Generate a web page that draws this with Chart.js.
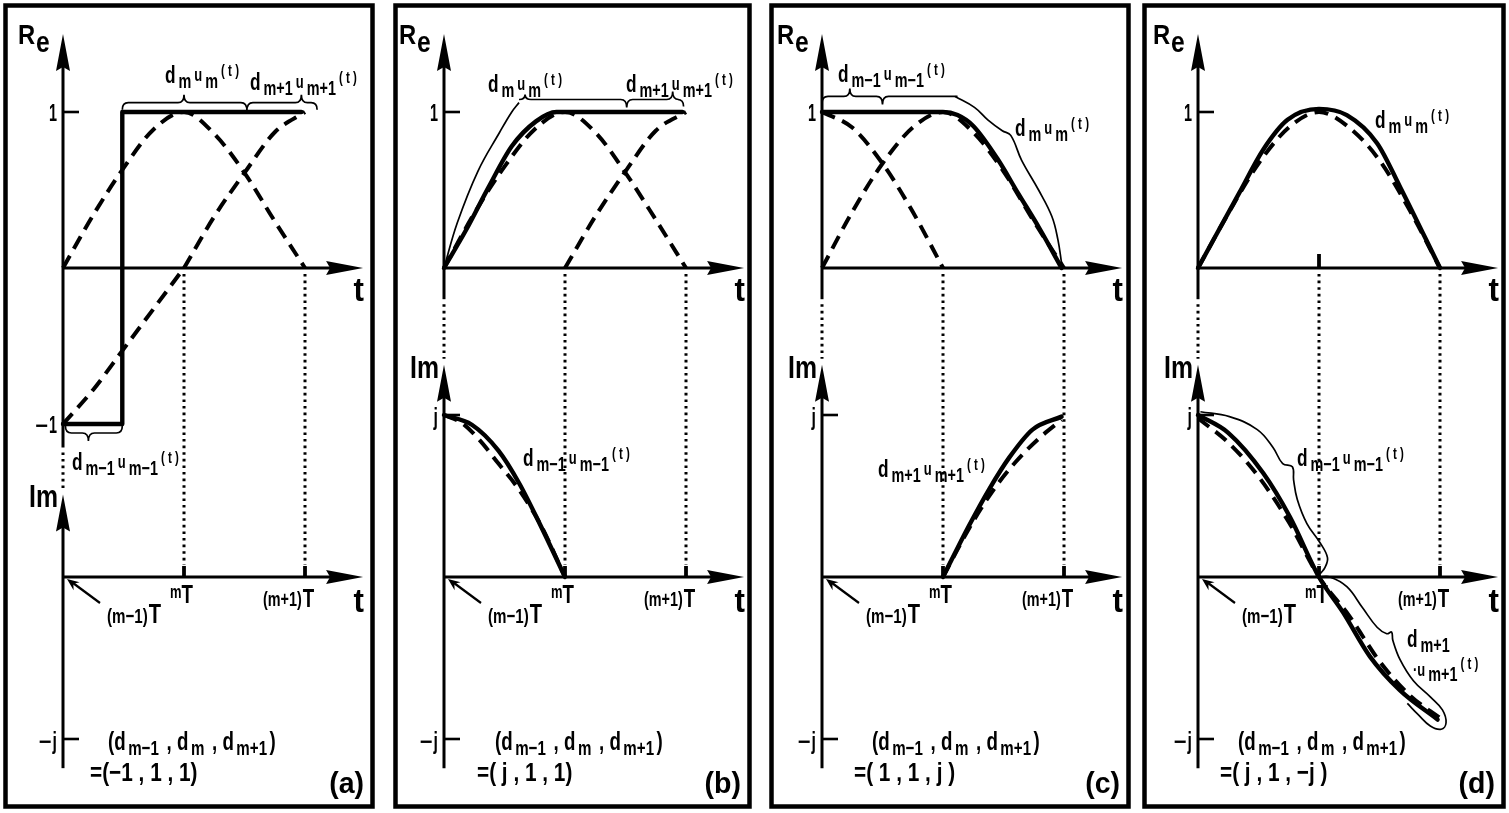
<!DOCTYPE html>
<html>
<head>
<meta charset="utf-8">
<title>Pulse phase diagrams</title>
<script src="https://cdn.jsdelivr.net/npm/chart.js@4.4.1/dist/chart.umd.min.js"></script>
<style>
  html, body { margin: 0; padding: 0; background: #fff; }
  canvas { position: absolute; }
</style>
</head>
<body>
<canvas id="panelA"></canvas>
<canvas id="panelB"></canvas>
<canvas id="panelC"></canvas>
<canvas id="panelD"></canvas>
<script>
'use strict';

// time is in units of T: 0 = (m-1)T, 1 = mT, 2 = (m+1)T
var halfT = [0, 0.25, 0.5, 0.75, 1];
var laterT = [1, 1.25, 1.5, 1.75, 2];
var pulseT = [0, 0.25, 0.5, 0.75, 1, 1.25, 1.5, 1.75, 2];

// (a)  d = (-1, 1, 1)
var aUmV = [0, 0.34, 0.64, 0.89, 1, 0.86, 0.61, 0.30, 0];
var aPrevV = [-1, -0.78, -0.52, -0.26, 0];
var aNextV = [0, 0.33, 0.61, 0.87, 1];
var aSumT = [0, 0.49, 0.49, 1.97];
var aSumV = [-1, -1, 1, 1];

// (b)  d = (j, 1, 1)
var bUmV = [0, 0.35, 0.65, 0.89, 1, 0.87, 0.61, 0.31, 0];
var bNextV = [0, 0.33, 0.62, 0.88, 1];
var bSumT = [0, 0.18, 0.37, 0.56, 0.76, 0.93, 1.97];
var bSumV = [0, 0.24, 0.52, 0.78, 0.94, 1, 1];
var bOutT = [0, 0.11, 0.28, 0.46, 0.56, 0.62];
var bOutV = [0, 0.29, 0.62, 0.87, 1.0, 1.06];
var bImSumT = [0, 0.23, 0.45, 0.62, 0.79, 1];
var bImSumV = [1, 0.94, 0.78, 0.58, 0.33, 0];
var bImPrevT = [0, 0.15, 0.3, 0.45, 0.6, 0.8, 1];
var bImPrevV = [1, 0.95, 0.84, 0.70, 0.56, 0.32, 0];

// (c)  d = (1, 1, j)
var cPrevV = [1, 0.9, 0.67, 0.36, 0];
var cUmV = [0, 0.36, 0.67, 0.9, 1, 0.87, 0.62, 0.3, 0];
var cSumT = [0, 1.0, 1.12, 1.25, 1.45, 1.62, 1.8, 1.98];
var cSumV = [1, 1, 0.98, 0.91, 0.70, 0.48, 0.25, 0];
var cOutT = [1.1, 1.26, 1.37, 1.49, 1.56, 1.65, 1.79, 1.9, 1.95, 1.98];
var cOutV = [1.1, 1.03, 0.95, 0.88, 0.85, 0.69, 0.5, 0.33, 0.18, 0.03];
var cImSumT = [1, 1.21, 1.38, 1.55, 1.74, 1.98];
var cImSumV = [0, 0.31, 0.54, 0.74, 0.91, 0.99];
var cImNextT = [1, 1.2, 1.4, 1.6, 1.8, 1.98];
var cImNextV = [0, 0.28, 0.52, 0.71, 0.86, 0.97];

// (d)  d = (j, 1, -j)
var dUmV = [0, 0.35, 0.67, 0.9, 1.0, 0.9, 0.69, 0.37, 0];
var dSumT = [0, 0.34, 0.54, 0.74, 1.0, 1.23, 1.48, 1.67, 2.0];
var dSumV = [0, 0.48, 0.76, 0.95, 1.02, 0.98, 0.80, 0.52, 0];
var dImSumT = [0, 0.25, 0.54, 0.76, 1.0, 1.2, 1.42, 1.67, 1.98];
var dImSumV = [1, 0.89, 0.64, 0.37, 0, -0.22, -0.49, -0.70, -0.88];
var dImDashV = [0.98, 0.83, 0.62, 0.34, 0, -0.24, -0.52, -0.73, -0.87];
var dOutPrevT = [0.02, 0.26, 0.49, 0.62, 0.70, 0.78, 0.79, 0.82, 0.90, 1.01, 1.07, 1.05, 1.01];
var dOutPrevV = [1.02, 0.99, 0.91, 0.80, 0.70, 0.68, 0.60, 0.48, 0.33, 0.21, 0.12, 0.06, 0.02];
var dOutNextT = [1.0, 1.09, 1.23, 1.36, 1.48, 1.56, 1.60, 1.61, 1.67, 1.78, 1.92, 2.02, 2.05, 2.01, 1.92, 1.82, 1.73];
var dOutNextV = [0, 0, -0.06, -0.19, -0.31, -0.35, -0.34, -0.39, -0.51, -0.64, -0.74, -0.82, -0.90, -0.94, -0.92, -0.85, -0.78];

// text
var timeLabels = ['(m\u22121)', 'm', '(m+1)'];
var reTickLabels = ['1', '\u22121'];
var imTickLabels = ['j', '\u2212j'];
var panelNames = ['(a)', '(b)', '(c)', '(d)'];
var symbolSets = ['=(\u22121 , 1 , 1)', '=( j , 1 , 1)', '=( 1 , 1 , j )', '=( j , 1 , \u2212j )'];

// page layout (pixels)
var BOXES = [[3, 375], [393, 752], [769, 1131], [1142, 1506]];
var BOX_TOP = 3, BOX_BOTTOM = 809;
var AXIS_X = [63, 444, 822, 1198];
var T_PX = 121;
var RE_ZERO = 268, RE_UNIT = 156, IM_ZERO = 577, IM_UNIT = 162;
var FACE = '"Liberation Sans", "DejaVu Sans", sans-serif';

function pts(ts, vs) {
  return ts.map(function(t, k) { return {x: t, y: vs[k]}; });
}
function solid(ts, vs, axis, monotone) {
  return {data: pts(ts, vs), yAxisID: axis, borderColor: '#000', borderWidth: 4.4,
    pointRadius: 0, fill: false, borderJoinStyle: 'round', borderCapStyle: 'round',
    tension: monotone ? 0.4 : 0, cubicInterpolationMode: monotone ? 'monotone' : 'default'};
}
function dashed(ts, vs, axis) {
  return {data: pts(ts, vs), yAxisID: axis, borderColor: '#000', borderWidth: 4,
    borderDash: [14, 8], pointRadius: 0, fill: false, tension: 0.4, cubicInterpolationMode: 'monotone'};
}
function thin(ts, vs, axis) {
  return {data: pts(ts, vs), yAxisID: axis, borderColor: '#000', borderWidth: 1.7,
    pointRadius: 0, fill: false, tension: 0.4, borderJoinStyle: 'round'};
}

function seg(ctx, x1, y1, x2, y2) {
  ctx.beginPath(); ctx.moveTo(x1, y1); ctx.lineTo(x2, y2); ctx.stroke();
}
function arrow(ctx, tx, ty, dx, dy, len, half) {
  var bx = tx - dx * len, by = ty - dy * len;
  ctx.beginPath();
  ctx.moveTo(tx, ty);
  ctx.lineTo(bx - dy * half, by + dx * half);
  ctx.lineTo(bx + dx * 4, by + dy * 4);
  ctx.lineTo(bx + dy * half, by - dx * half);
  ctx.closePath();
  ctx.fill();
}
function word(ctx, str, x, y, size, o) {
  o = o || {};
  var sx = o.sx || 0.72;
  ctx.save();
  ctx.font = (o.light ? '' : 'bold ') + size + 'px ' + FACE;
  var w = ctx.measureText(str).width * sx;
  var left = o.align === 'right' ? x - w : (o.align === 'center' ? x - w / 2 : x);
  ctx.translate(left, y);
  ctx.scale(sx, 1);
  ctx.textAlign = 'left';
  ctx.textBaseline = 'alphabetic';
  ctx.fillText(str, 0, 0);
  ctx.restore();
  return w;
}
function rich(ctx, parts, x, y, gap) {
  var cx = x;
  parts.forEach(function(p) {
    cx += word(ctx, p[0], cx, y + (p[2] || 0), p[1], p[3]) + (gap || 0);
  });
  return cx - x;
}
// tick label ending at x; a leading minus sign keeps its full width
function tickLabel(ctx, str, x, y, sx) {
  var w = word(ctx, str.replace('\u2212', ''), x, y, 24, {sx: sx, align: 'right'});
  if (str.charAt(0) === '\u2212') word(ctx, '\u2212', x - w - 1, y, 22, {sx: 1, align: 'right'});
}
// d_sub u_sub (t)
function du(ctx, x, y, sub) {
  return rich(ctx, [['d', 24], [sub, 20, 5], ['u', 18, -2], [sub, 20, 5], ['( t )', 16, -7]], x, y, 3);
}
// curly brace along a horizontal line, tips = [[x, dir, h]]
function hBrace(ctx, x1, x2, y, tips, curlStart, curlEnd) {
  var r = 6;
  ctx.beginPath();
  if (curlStart) {
    ctx.moveTo(x1, y + curlStart * 7);
    ctx.quadraticCurveTo(x1, y, x1 + r, y);
  } else {
    ctx.moveTo(x1, y);
  }
  tips.forEach(function(tp) {
    var h = tp[2] || 8;
    ctx.lineTo(tp[0] - r, y);
    ctx.quadraticCurveTo(tp[0], y, tp[0], y + tp[1] * h);
    ctx.quadraticCurveTo(tp[0], y, tp[0] + r, y);
  });
  if (curlEnd) {
    ctx.lineTo(x2 - r, y);
    ctx.quadraticCurveTo(x2, y, x2, y + curlEnd * 7);
  } else {
    ctx.lineTo(x2, y);
  }
  ctx.stroke();
}

function scalesOf(chart) {
  var s = chart.scales;
  return {
    X: function(t) { return s.x.getPixelForValue(t); },
    R: function(v) { return s.re.getPixelForValue(v); },
    I: function(v) { return s.im.getPixelForValue(v); }
  };
}

function drawAxes(chart, spec) {
  var ctx = chart.ctx, f = scalesOf(chart);
  var X = f.X, R = f.R, I = f.I, x0 = X(0);
  ctx.save();
  ctx.strokeStyle = '#000';
  ctx.fillStyle = '#000';
  ctx.lineWidth = 4.5;
  ctx.strokeRect(2.5, 2.5, chart.width - 5, chart.height - 5);

  ctx.lineWidth = 3;
  seg(ctx, x0, R(spec.reBottom), x0, R(1.5) + 20);
  arrow(ctx, x0, R(1.5), 0, -1, 37, 7);
  seg(ctx, x0, R(0), X(2.48) - 20, R(0));
  arrow(ctx, X(2.48), R(0), 1, 0, 37, 7);
  seg(ctx, x0, I(-1.18), x0, I(spec.imTip) + 20);
  arrow(ctx, x0, I(spec.imTip), 0, -1, 37, 7);
  seg(ctx, x0, I(0), X(2.48) - 20, I(0));
  arrow(ctx, X(2.48), I(0), 1, 0, 37, 7);

  ctx.lineWidth = 2.6;
  spec.reTicks.forEach(function(v) { seg(ctx, x0, R(v), x0 + 16, R(v)); });
  spec.imTicks.forEach(function(v) { seg(ctx, x0, I(v), x0 + 16, I(v)); });
  ctx.lineWidth = 3.8;
  [1, 2].forEach(function(t) { seg(ctx, X(t), I(0) - 11, X(t), I(0)); });
  if (spec.reMidTick) seg(ctx, X(1), R(0) - 14, X(1), R(0));

  // dotted guides between the two planes
  ctx.lineWidth = 3;
  ctx.setLineDash([2.6, 4]);
  seg(ctx, x0, R(spec.reBottom) + 5, x0, I(spec.imTip) - 6);
  [1, 2].forEach(function(t) { seg(ctx, X(t), R(0) + 6, X(t), I(0) - 12); });
  ctx.setLineDash([]);
  ctx.restore();
}

function drawNotes(chart, spec) {
  var ctx = chart.ctx, f = scalesOf(chart);
  var X = f.X, R = f.R, I = f.I, x0 = X(0), i0 = I(0);
  ctx.save();
  ctx.fillStyle = '#000';
  ctx.strokeStyle = '#000';

  word(ctx, 'R', x0 - 45, R(1.5) + 10, 28, {sx: 0.85});
  word(ctx, 'e', x0 - 27, R(1.5) + 18, 29, {sx: 0.85});
  word(ctx, 'Im', x0 - 5, I(spec.imTip) + 13, 31, {sx: 0.8, align: 'right'});
  word(ctx, 't', X(2.40), R(0) + 33, 33, {sx: 0.95});
  word(ctx, 't', X(2.40), i0 + 35, 33, {sx: 0.95});

  spec.reTicks.forEach(function(v) {
    tickLabel(ctx, reTickLabels[v > 0 ? 0 : 1], x0 - 6, R(v) + 9, 0.6);
  });
  spec.imTicks.forEach(function(v) {
    tickLabel(ctx, imTickLabels[v > 0 ? 0 : 1], x0 - 6, I(v) + 10, 0.66);
  });

  // time marks below the Im axis
  ctx.lineWidth = 2.2;
  seg(ctx, x0 + 37, i0 + 26, x0 + 10, i0 + 6);
  arrow(ctx, x0 + 4, i0 + 2, -0.8, -0.6, 12, 5);
  rich(ctx, [[timeLabels[0], 21], ['T', 28]], x0 + 44, i0 + 46, 1);
  rich(ctx, [[timeLabels[1], 18, -5], ['T', 26]], X(1) - 14, i0 + 26, 0);
  rich(ctx, [[timeLabels[2], 20, -1], ['T', 26]], X(2) - 42, i0 + 30, 1);

  ctx.lineWidth = 1.7;
  spec.notes(ctx, X, R, I);

  rich(ctx, [['(d', 26], ['m\u22121', 21, 5], [' , d', 26], ['m', 21, 5], [' , d', 26], ['m+1', 21, 5], [')', 26]],
    x0 + spec.setDx, I(-1) + 11, 2.5);
  word(ctx, symbolSets[spec.k], x0 + spec.setDx - 18, I(-1) + 42, 26, {sx: 0.8});
  word(ctx, panelNames[spec.k], chart.width - 11, chart.height - 16, 30, {sx: 0.95, align: 'right'});
  ctx.restore();
}

function makePanel(spec, datasets) {
  var k = spec.k, box = BOXES[k];
  var cv = document.getElementById(spec.id);
  var w = box[1] - box[0], h = BOX_BOTTOM - BOX_TOP;
  cv.width = w;
  cv.height = h;
  cv.style.left = box[0] + 'px';
  cv.style.top = BOX_TOP + 'px';
  cv.style.width = w + 'px';
  cv.style.height = h + 'px';
  new Chart(cv, {
    type: 'line',
    data: {datasets: datasets},
    options: {
      responsive: false,
      animation: false,
      devicePixelRatio: 1,
      events: [],
      layout: {padding: 0},
      plugins: {legend: {display: false}, tooltip: {enabled: false}},
      scales: {
        x: {type: 'linear', display: false, min: (box[0] - AXIS_X[k]) / T_PX, max: (box[1] - AXIS_X[k]) / T_PX},
        re: {type: 'linear', display: false, position: 'left',
          min: (RE_ZERO - BOX_BOTTOM) / RE_UNIT, max: (RE_ZERO - BOX_TOP) / RE_UNIT},
        im: {type: 'linear', display: false, position: 'left',
          min: (IM_ZERO - BOX_BOTTOM) / IM_UNIT, max: (IM_ZERO - BOX_TOP) / IM_UNIT}
      }
    },
    plugins: [{
      id: 'sketch' + k,
      beforeDatasetsDraw: function(chart) { drawAxes(chart, spec); },
      afterDatasetsDraw: function(chart) { drawNotes(chart, spec); }
    }]
  });
}

makePanel({
  k: 0, id: 'panelA', reBottom: -1.15, imTip: 0.51, reTicks: [1, -1], imTicks: [-1], setDx: 45,
  notes: function(ctx, X, R, I) {
    hBrace(ctx, X(0.49), X(2.1), R(1.06), [[X(1.0), -1], [X(1.52), 1], [X(1.97), -1]], 1, 1);
    hBrace(ctx, X(0.02), X(0.49), R(-1) + 9, [[X(0.21), 1]], -1, -1);
    du(ctx, X(0) + 102, R(1) - 29, 'm');
    du(ctx, X(0) + 187, R(1) - 22, 'm+1');
    du(ctx, X(0) + 9, R(-1) + 46, 'm\u22121');
  }
}, [
  dashed(pulseT, aUmV, 're'),
  dashed(halfT, aPrevV, 're'),
  dashed(laterT, aNextV, 're'),
  solid(aSumT, aSumV, 're', false)
]);

makePanel({
  k: 1, id: 'panelB', reBottom: -0.2, imTip: 1.31, reTicks: [1], imTicks: [1, -1], setDx: 51,
  notes: function(ctx, X, R, I) {
    hBrace(ctx, X(0.62), X(1.98), R(1.08), [[X(0.67), -1, 5], [X(1.51), 1], [X(1.89), -1]], 0, 1);
    du(ctx, X(0) + 44, R(1) - 20, 'm');
    du(ctx, X(0) + 182, R(1) - 20, 'm+1');
    du(ctx, X(0) + 79, I(1) + 51, 'm\u22121');
  }
}, [
  dashed(pulseT, bUmV, 're'),
  dashed(laterT, bNextV, 're'),
  solid(bSumT, bSumV, 're', true),
  thin(bOutT, bOutV, 're'),
  dashed(bImPrevT, bImPrevV, 'im'),
  solid(bImSumT, bImSumV, 'im', true)
]);

makePanel({
  k: 2, id: 'panelC', reBottom: -0.2, imTip: 1.31, reTicks: [1], imTicks: [1, -1], setDx: 50,
  notes: function(ctx, X, R, I) {
    hBrace(ctx, X(0.0), X(1.12), R(1.1), [[X(0.23), -1], [X(0.5), 1]], 1, 0);
    du(ctx, X(0) + 16, R(1) - 30, 'm\u22121');
    du(ctx, X(0) + 193, R(1) + 24, 'm');
    du(ctx, X(0) + 56, I(1) + 62, 'm+1');
  }
}, [
  dashed(halfT, cPrevV, 're'),
  dashed(pulseT, cUmV, 're'),
  solid(cSumT, cSumV, 're', true),
  thin(cOutT, cOutV, 're'),
  dashed(cImNextT, cImNextV, 'im'),
  solid(cImSumT, cImSumV, 'im', true)
]);

makePanel({
  k: 3, id: 'panelD', reBottom: -0.2, imTip: 1.31, reTicks: [1], imTicks: [1, -1], setDx: 40, reMidTick: true,
  notes: function(ctx, X, R, I) {
    du(ctx, X(0) + 177, R(1) + 16, 'm');
    du(ctx, X(0) + 99, I(1) + 51, 'm\u22121');
    rich(ctx, [['d', 24], ['m+1', 20, 5]], X(0) + 209, I(0) + 70, 3);
    rich(ctx, [['\u00b7u', 18], ['m+1', 20, 5], ['( t )', 16, -7]], X(0) + 215, I(0) + 99, 3);
  }
}, [
  dashed(pulseT, dUmV, 're'),
  solid(dSumT, dSumV, 're', true),
  dashed(pulseT, dImDashV, 'im'),
  solid(dImSumT, dImSumV, 'im', true),
  thin(dOutPrevT, dOutPrevV, 'im'),
  thin(dOutNextT, dOutNextV, 'im')
]);
</script>
</body>
</html>
